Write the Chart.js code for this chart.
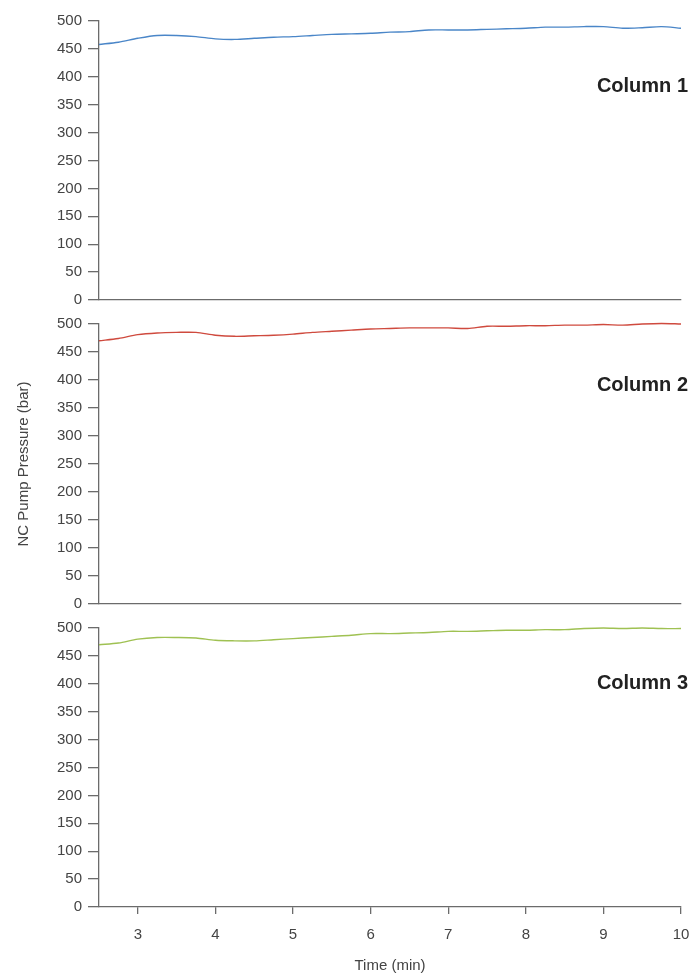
<!DOCTYPE html>
<html>
<head>
<meta charset="utf-8">
<script src="https://cdn.jsdelivr.net/npm/chart.js@4/dist/chart.umd.min.js"></script>
<style>
  html, body { margin: 0; padding: 0; background: #fff; }
  #wrap { position: relative; width: 691px; height: 975px; }
  #wrap canvas { position: absolute; left: 0; }
</style>
</head>
<body>
<div id="wrap">
  <canvas id="col1" style="top:0px"></canvas>
  <canvas id="col2" style="top:309px"></canvas>
  <canvas id="col3" style="top:613px"></canvas>
</div>
<script>
// sample times (min)
const timeMin = [2.5, 2.75, 3.0, 3.25, 3.5, 3.75, 4.0, 4.25, 4.5, 4.75, 5.0, 5.25, 5.5, 5.75, 6.0, 6.25,
                 6.5, 6.75, 7.0, 7.25, 7.5, 7.75, 8.0, 8.25, 8.5, 8.75, 9.0, 9.25, 9.5, 9.75, 10.0];

// NC pump pressure (bar) per column
const column1 = [458, 462, 469, 474, 474, 472, 468, 467, 469, 471, 472, 474, 476, 477, 478, 480,
                 481, 484, 484, 484, 485, 486, 487, 489, 489, 490, 490, 487, 488, 490, 487];
const column2 = [470, 474, 481, 484, 485, 485, 480, 478, 479, 480, 482, 485, 487, 489, 491, 492,
                 493, 493, 493, 492, 496, 496, 497, 497, 498, 498, 499, 498, 500, 501, 500];
const column3 = [470, 473, 480, 483, 483, 482, 478, 477, 477, 479, 481, 483, 485, 487, 490, 490,
                 491, 492, 494, 494, 495, 496, 496, 497, 497, 499, 500, 499, 500, 499, 499];

const xTicks = [3, 4, 5, 6, 7, 8, 9, 10];
const panelNames = ['Column 1', 'Column 2', 'Column 3'];

const FONT = "'Liberation Sans', Arial, sans-serif";
const AXIS = '#6b6b6b';
const TEXT = '#444';

// right-aligned panel name just outside the plot area
const panelLabel = {
  id: 'panelLabel',
  afterDraw(chart, args, opts) {
    const { ctx, chartArea, scales } = chart;
    ctx.save();
    ctx.font = 'bold 20px ' + FONT;
    ctx.fillStyle = '#222';
    ctx.textAlign = 'right';
    ctx.textBaseline = 'middle';
    ctx.fillText(opts.text, chartArea.right + 7, scales.y.getPixelForValue(opts.at));
    ctx.restore();
  }
};

function makePanel(id, values, color, name, labelAt, cfg) {
  const canvas = document.getElementById(id);
  canvas.width = 691;
  canvas.height = cfg.height;
  canvas.style.width = '691px';
  canvas.style.height = cfg.height + 'px';

  return new Chart(canvas, {
    type: 'line',
    data: {
      datasets: [{
        data: timeMin.map((t, i) => ({ x: t, y: values[i] })),
        borderColor: color,
        borderWidth: 1.4,
        pointRadius: 0,
        tension: 0.3,
        clip: false
      }]
    },
    options: {
      responsive: false,
      animation: false,
      layout: { padding: { top: cfg.top, right: 10, bottom: cfg.bottom, left: 0 } },
      plugins: {
        legend: { display: false },
        tooltip: { enabled: false },
        panelLabel: { text: name, at: labelAt }
      },
      scales: {
        x: {
          type: 'linear',
          min: 2.5,
          max: 10,
          afterBuildTicks: s => { s.ticks = xTicks.map(v => ({ value: v })); },
          afterFit: s => { s.height = cfg.xHeight; },
          border: { color: AXIS, width: 1.3 },
          grid: { display: cfg.showX, drawOnChartArea: false, color: AXIS, lineWidth: 1.3, tickLength: 7 },
          // tall line height pushes the labels down without widening the right padding
          ticks: { display: cfg.showX, color: TEXT, font: { family: FONT, size: 15, lineHeight: 2.6 }, padding: 1, maxRotation: 0 },
          title: {
            display: cfg.showX,
            text: 'Time (min)',
            color: TEXT,
            font: { family: FONT, size: 15 },
            padding: { top: 0, bottom: 0 }
          }
        },
        y: {
          min: 0,
          max: 500,
          afterFit: s => { s.width = 99; },
          border: { color: AXIS, width: 1.3 },
          grid: { drawOnChartArea: false, color: AXIS, lineWidth: 1.3, tickLength: 11 },
          ticks: { stepSize: 50, color: TEXT, font: { family: FONT, size: 15 }, padding: 6 },
          title: {
            display: cfg.showTitle,
            text: 'NC Pump Pressure (bar)',
            color: TEXT,
            font: { family: FONT, size: 15 },
            padding: { top: 15, bottom: 0 }
          }
        }
      }
    },
    plugins: [panelLabel]
  });
}

makePanel('col1', column1, '#4a86c8', panelNames[0], 383,
  { height: 315, top: 21, bottom: 15, xHeight: 0, showX: false, showTitle: false });
makePanel('col2', column2, '#cf4a3e', panelNames[1], 391,
  { height: 310, top: 15, bottom: 15, xHeight: 0, showX: false, showTitle: true });
makePanel('col3', column3, '#9fc152', panelNames[2], 400,
  { height: 362, top: 15, bottom: 0, xHeight: 68, showX: true, showTitle: false });
</script>
</body>
</html>
